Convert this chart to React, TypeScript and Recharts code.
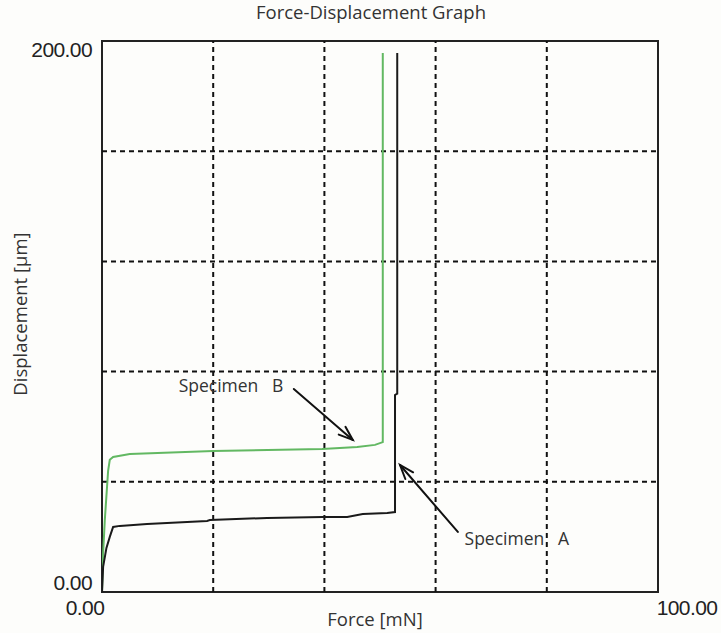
import React from 'react';
import {
  LineChart,
  Line,
  XAxis,
  YAxis,
  ReferenceLine,
  ReferenceArea,
  ReferenceDot,
} from 'recharts';

// Specimen A (black curve): force [mN] vs displacement [µm]
const forceA = [0, 0.2, 0.8, 1.4, 2.0, 3.2, 8.1, 18.9, 19.4, 29.7, 39.7, 44.1, 46.9, 51.3, 52.7, 52.7, 53.1, 53.1];
const dispA = [0, 9.1, 16, 20, 23.6, 24.0, 24.7, 25.8, 26.1, 26.9, 27.2, 27.2, 28.3, 28.7, 29.0, 71.5, 72.0, 195.6];

// Specimen B (green curve)
const forceB = [0, 0.2, 0.5, 1.1, 1.4, 2.0, 5.0, 20.0, 39.6, 45.9, 49.1, 50.5, 50.5];
const dispB = [0, 14, 26, 44, 48, 49, 50.1, 51.2, 51.9, 52.6, 53.4, 54.4, 195.6];

// Axis ticks and dashed grid positions
const xTicks = [0, 100];
const yTicks = [0, 200];
const xGrid = [20, 40, 60, 80];
const yGrid = [40, 80, 120, 160];

// Callout annotations (data units)
const calloutNames = ['Specimen   B', 'Specimen   A'];
const calloutTextX = [23.2, 74.6];
const calloutTextY = [75.1, 19.6];
const calloutTail = [
  { x: 34.5, y: 73.7 },
  { x: 64.0, y: 21.8 },
];
const calloutTip = [
  { x: 45.1, y: 55.2 },
  { x: 53.6, y: 46.1 },
];

const seriesA = forceA.map((f, i) => ({ force: f, disp: dispA[i] }));
const seriesB = forceB.map((f, i) => ({ force: f, disp: dispB[i] }));

const TICK_FONT = '"Liberation Sans", Arial, sans-serif';
const TEXT_FONT = '"Open Sans", "Noto Sans", sans-serif';

const YTick = (props: any) => {
  const { y, payload } = props;
  const dy = payload.value === 0 ? -10 : 8;
  return (
    <text
      x={92}
      y={y + dy}
      textAnchor="end"
      dominantBaseline="central"
      fontFamily={TICK_FONT}
      fontSize={21}
      letterSpacing={-0.6}
      fill="#222"
    >
      {payload.value.toFixed(2)}
    </text>
  );
};

const XTick = (props: any) => {
  const { x, payload } = props;
  const dx = payload.value === 0 ? -17 : 29;
  return (
    <text
      x={x + dx}
      y={607}
      textAnchor="middle"
      dominantBaseline="central"
      fontFamily={TICK_FONT}
      fontSize={21}
      letterSpacing={-0.6}
      fill="#222"
    >
      {payload.value.toFixed(2)}
    </text>
  );
};

const Arrow = (props: any) => {
  const { x1, y1, x2, y2 } = props;
  const ang = Math.atan2(y2 - y1, x2 - x1);
  const len = 15;
  const spread = 0.35;
  const b1x = x2 - len * Math.cos(ang - spread);
  const b1y = y2 - len * Math.sin(ang - spread);
  const b2x = x2 - len * Math.cos(ang + spread);
  const b2y = y2 - len * Math.sin(ang + spread);
  return (
    <g stroke="#111" strokeWidth={2} fill="none" strokeLinecap="round">
      <line x1={x1} y1={y1} x2={x2} y2={y2} />
      <polyline points={`${b1x},${b1y} ${x2},${y2} ${b2x},${b2y}`} />
    </g>
  );
};

const makeLabel = (name: string) => (p: any) => (
  <text
    x={p.cx}
    y={p.cy}
    textAnchor="middle"
    dominantBaseline="central"
    fontFamily={TEXT_FONT}
    fontSize={17.5}
    fill="#333"
    style={{ whiteSpace: 'pre' }}
  >
    {name}
  </text>
);

export default function App() {
  return (
    <div
      style={{
        position: 'absolute',
        left: 0,
        top: 0,
        width: 721,
        height: 633,
        background: '#fdfdfb',
        overflow: 'hidden',
      }}
    >
      <div
        style={{
          position: 'absolute',
          left: 0,
          width: 742,
          top: -1,
          textAlign: 'center',
          fontFamily: TEXT_FONT,
          fontSize: 18.5,
          color: '#333',
        }}
      >
        Force-Displacement Graph
      </div>
      <div
        style={{
          position: 'absolute',
          left: 0,
          width: 750,
          top: 606,
          textAlign: 'center',
          fontFamily: TEXT_FONT,
          fontSize: 18.5,
          color: '#333',
        }}
      >
        Force [mN]
      </div>
      <div
        style={{
          position: 'absolute',
          left: 19,
          top: 314,
          transform: 'translate(-50%, -50%) rotate(-90deg)',
          whiteSpace: 'nowrap',
          fontFamily: TEXT_FONT,
          fontSize: 18.5,
          color: '#333',
        }}
      >
        Displacement [µm]
      </div>
      <LineChart
        width={721}
        height={633}
        margin={{ top: 41, right: 63, bottom: 40, left: 101 }}
        style={{ position: 'absolute', left: 0, top: 0 }}
      >
        <XAxis
          dataKey="force"
          type="number"
          domain={[0, 100]}
          ticks={xTicks}
          height={1}
          axisLine={false}
          tickLine={false}
          tickSize={0}
          tickMargin={0}
          tick={<XTick />}
          interval={0}
          allowDataOverflow
        />
        <YAxis
          dataKey="disp"
          type="number"
          domain={[0, 200]}
          ticks={yTicks}
          width={1}
          axisLine={false}
          tickLine={false}
          tickSize={0}
          tickMargin={0}
          tick={<YTick />}
          interval={0}
          allowDataOverflow
        />
        {xGrid.map((v) => (
          <ReferenceLine key={`gx${v}`} x={v} stroke="#111" strokeWidth={2} strokeDasharray="5 4" />
        ))}
        {yGrid.map((v) => (
          <ReferenceLine key={`gy${v}`} y={v} stroke="#111" strokeWidth={2} strokeDasharray="5 4" />
        ))}
        <ReferenceArea x1={0} x2={100} y1={0} y2={200} fill="none" stroke="#222" strokeWidth={2} />
        <Line
          data={seriesB}
          dataKey="disp"
          type="linear"
          stroke="#62b862"
          strokeWidth={2}
          dot={false}
          isAnimationActive={false}
        />
        <Line
          data={seriesA}
          dataKey="disp"
          type="linear"
          stroke="#1a1a1a"
          strokeWidth={2}
          dot={false}
          isAnimationActive={false}
        />
        {calloutNames.map((name, i) => (
          <ReferenceLine
            key={`arrow${i}`}
            segment={[calloutTail[i], calloutTip[i]]}
            shape={(p: any) => <Arrow {...p} />}
          />
        ))}
        {calloutNames.map((name, i) => (
          <ReferenceDot
            key={`label${i}`}
            x={calloutTextX[i]}
            y={calloutTextY[i]}
            r={0}
            shape={makeLabel(name)}
          />
        ))}
      </LineChart>
    </div>
  );
}
